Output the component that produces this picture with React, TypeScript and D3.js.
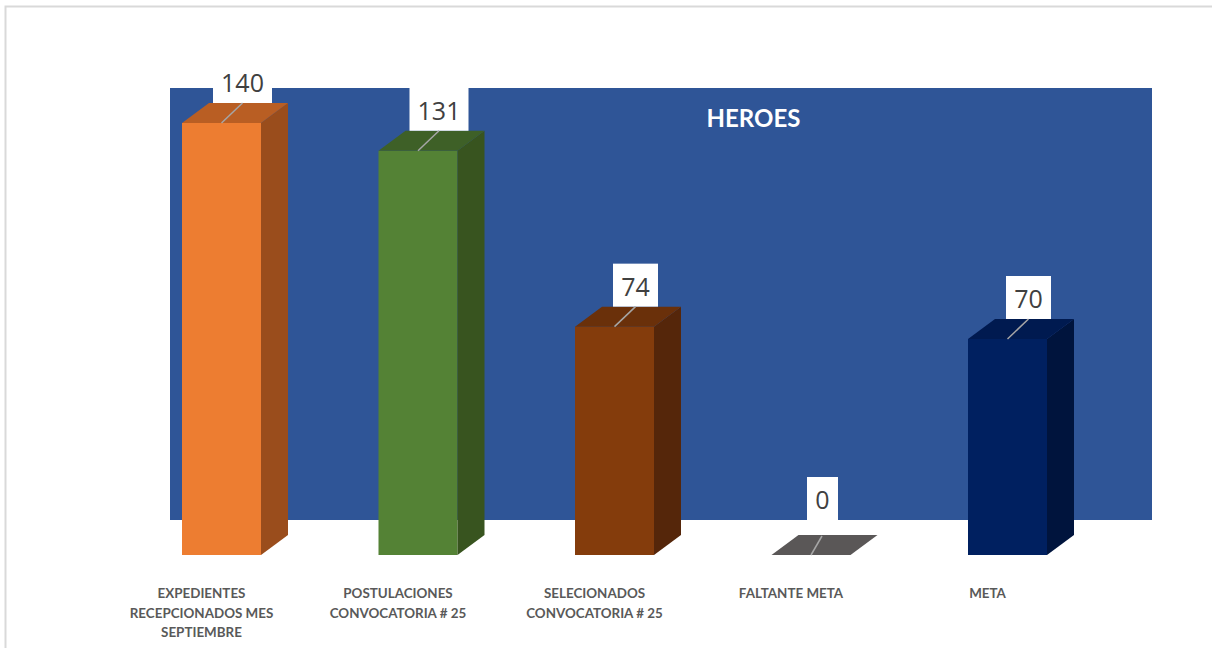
import React from 'react';
import * as d3 from 'd3';

// data
const categories = [
  'EXPEDIENTES RECEPCIONADOS MES SEPTIEMBRE',
  'POSTULACIONES CONVOCATORIA # 25',
  'SELECIONADOS CONVOCATORIA # 25',
  'FALTANTE META',
  'META',
];
const labelLines = [
  ['EXPEDIENTES', 'RECEPCIONADOS MES', 'SEPTIEMBRE'],
  ['POSTULACIONES', 'CONVOCATORIA # 25'],
  ['SELECIONADOS', 'CONVOCATORIA # 25'],
  ['FALTANTE META'],
  ['META'],
];
const values = [140, 131, 74, 0, 70];
const frontColors = ['#ED7D31', '#548235', '#843C0C', '#5A5757', '#002060'];
const topColors = ['#B95E23', '#3E6027', '#6A300A', '#5A5757', '#001A50'];
const sideColors = ['#9A4D1C', '#38541F', '#55260A', '#4A4747', '#00143D'];

const W = 1212;
const H = 648;
const depthX = 27;
const depthY = 20;
const barW = 79;

export default function App() {
  const x = d3.scalePoint<string>().domain(categories).range([221.5, 1007.5]);
  const y = d3.scaleLinear().domain([0, 140]).range([555, 123]);

  const wallTop = y(140) - 35;
  const wallBottom = y(0) - 35;

  return (
    <svg width={W} height={H} style={{position: 'absolute', left: 0, top: 0, background: '#fff'}}
      fontFamily="Lato, 'Open Sans', sans-serif">
      {/* chart frame */}
      <rect x={5.5} y={6.5} width={W + 10} height={H + 10} fill="#fff" stroke="#D9D9D9" strokeWidth={2} />
      {/* back wall */}
      <rect x={170} y={wallTop} width={982} height={wallBottom - wallTop} fill="#2F5597" />
      <text x={753.5} y={127} textAnchor="middle" fill="#fff" fontSize={24} fontWeight="bold">HEROES</text>

      {categories.map((c, i) => {
        const cx = x(c) as number;
        const x0 = cx - barW / 2;
        const x1 = cx + barW / 2;
        const yt = y(values[i]);
        const yb = y(0);
        const flat = values[i] === 0;
        const topPath = `M${x0},${yt} L${x0 + depthX},${yt - depthY} L${x1 + depthX},${yt - depthY} L${x1},${yt} Z`;
        const sidePath = `M${x1},${yt} L${x1 + depthX},${yt - depthY} L${x1 + depthX},${yb - depthY} L${x1},${yb} Z`;
        return (
          <g key={c}>
            {!flat && <rect x={x0} y={yt} width={barW} height={yb - yt} fill={frontColors[i]} />}
            {!flat && <path d={sidePath} fill={sideColors[i]} />}
            <path d={topPath} fill={topColors[i]} />
          </g>
        );
      })}

      {/* data labels */}
      {categories.map((c, i) => {
        const cx = x(c) as number;
        const yt = y(values[i]);
        const txt = String(values[i]);
        const zero = values[i] === 0;
        const bw = 17 + txt.length * 14;
        const lx = cx + (zero ? 11.5 : 21);
        const boxBottom = zero ? yt - 35 : yt - 20;
        const lineTop = zero ? yt - 19 : boxBottom;
        return (
          <g key={'lab' + c}>
            <rect x={lx - bw / 2} y={boxBottom - 43} width={bw} height={43} fill="#fff" />
            <text x={lx} y={boxBottom - 11} textAnchor="middle" fill="#404040" fontSize={25}
              fontFamily="'Open Sans', Lato, sans-serif">{txt}</text>
            <line x1={zero ? cx + 11 : lx} y1={lineTop} x2={cx} y2={yt}
              stroke="#A6A6A6" strokeWidth={1.5} />
          </g>
        );
      })}

      {/* category labels */}
      {categories.map((c, i) => {
        const cx = (x(c) as number) - 20;
        return (
          <text key={'cat' + c} x={cx} y={598} textAnchor="middle" fill="#595959" fontSize={13.4} fontWeight="bold">
            {labelLines[i].map((l, j) => (
              <tspan key={j} x={cx} dy={j === 0 ? 0 : 19.5}>{l}</tspan>
            ))}
          </text>
        );
      })}
    </svg>
  );
}
